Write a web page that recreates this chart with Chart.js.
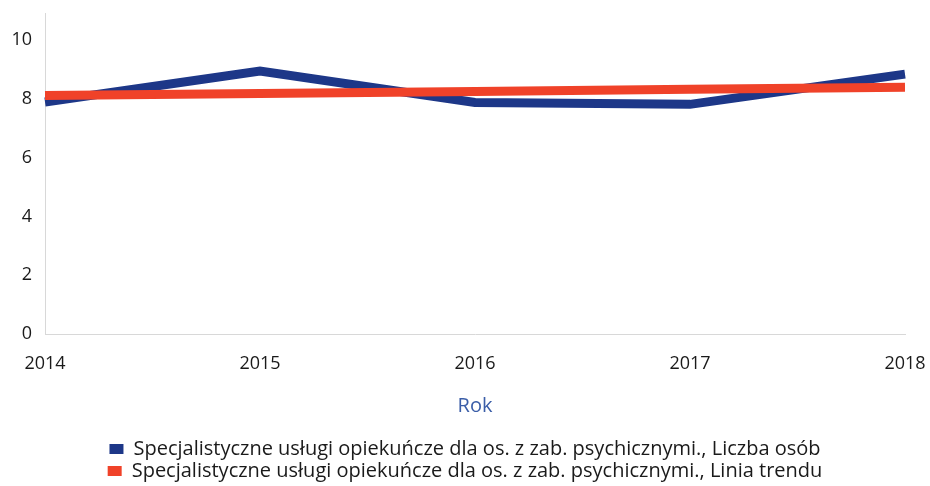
<!DOCTYPE html>
<html>
<head>
<meta charset="utf-8">
<script src="https://cdn.jsdelivr.net/npm/chart.js@4/dist/chart.umd.min.js"></script>
<style>
  html, body { margin: 0; padding: 0; background: #fff; }
  #wrap { width: 930px; height: 486px; }
</style>
</head>
<body>
<div id="wrap"><canvas id="chart" width="930" height="486"></canvas></div>
<script>
const years = ['2014', '2015', '2016', '2017', '2018'];
const liczbaOsob = [7.9, 8.95, 7.88, 7.82, 8.85];
const liniaTrendu = [8.12, 8.19, 8.26, 8.33, 8.4];
const yTicks = [0, 2, 4, 6, 8, 10];

const BLUE = '#1d3788';
const RED = '#f04229';
const FONT = '"Open Sans", "DejaVu Sans", sans-serif';

Chart.defaults.font.family = FONT;
Chart.defaults.color = '#1a1a1a';

new Chart(document.getElementById('chart'), {
  type: 'line',
  data: {
    labels: years,
    datasets: [
      {
        label: 'Specjalistyczne usługi opiekuńcze dla os. z zab. psychicznymi., Liczba osób',
        data: liczbaOsob,
        borderColor: BLUE,
        backgroundColor: BLUE,
        borderWidth: 9,
        pointRadius: 0,
        tension: 0,
        order: 2
      },
      {
        label: 'Specjalistyczne usługi opiekuńcze dla os. z zab. psychicznymi., Linia trendu',
        data: liniaTrendu,
        borderColor: RED,
        backgroundColor: RED,
        borderWidth: 9,
        pointRadius: 0,
        tension: 0,
        order: 1
      }
    ]
  },
  options: {
    responsive: false,
    animation: false,
    layout: { padding: { top: 0, right: 0, left: 0, bottom: -5 } },
    plugins: {
      tooltip: { enabled: false },
      legend: {
        position: 'bottom',
        labels: {
          boxWidth: 14,
          boxHeight: 10,
          padding: 2,
          font: { size: 20 },
          color: '#1a1a1a',
          sort: (a, b) => a.datasetIndex - b.datasetIndex,
          generateLabels: (chart) => {
            const items = Chart.defaults.plugins.legend.labels.generateLabels(chart);
            items.forEach((it) => { it.lineWidth = 0; });
            return items;
          }
        }
      }
    },
    scales: {
      x: {
        offset: false,
        grid: { display: false, drawTicks: false },
        border: { display: true, color: '#d8d8d8', width: 1 },
        ticks: { padding: 19, font: { size: 18 }, maxRotation: 0, autoSkip: false },
        title: {
          display: true,
          text: 'Rok',
          color: '#3b5ea8',
          font: { size: 20 },
          padding: { top: 14, bottom: 19 }
        },
        afterFit: (scale) => {
          scale.height = 103;
          scale.paddingLeft = 0;
          scale.paddingRight = 25;
        }
      },
      y: {
        min: 0,
        max: 10.93,
        grid: { display: false, drawTicks: false },
        border: { display: true, color: '#d8d8d8', width: 1 },
        ticks: { stepSize: 2, padding: 13, font: { size: 18 } },
        afterBuildTicks: (scale) => {
          scale.ticks = yTicks.map((v) => ({ value: v }));
        },
        afterFit: (scale) => {
          scale.width = 45;
          scale.paddingTop = 13;
          scale.paddingBottom = 0;
        }
      }
    }
  }
});
</script>
</body>
</html>
